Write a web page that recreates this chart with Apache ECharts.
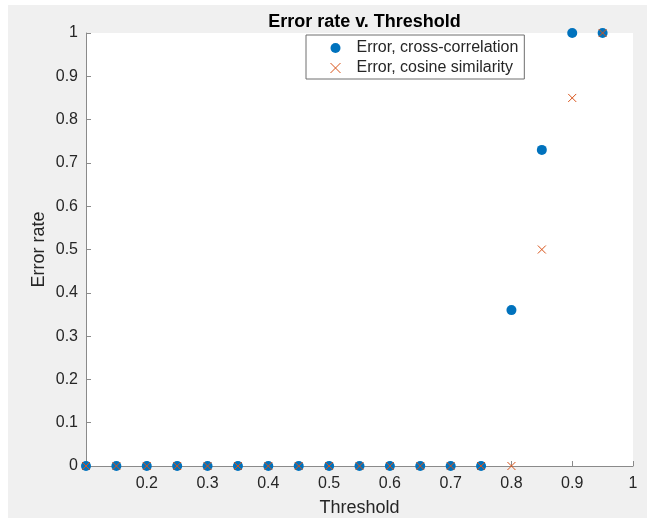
<!DOCTYPE html>
<html>
<head>
<meta charset="utf-8">
<script src="https://cdn.jsdelivr.net/npm/echarts@6/dist/echarts.min.js"></script>
<style>
  html, body { margin: 0; padding: 0; background: #ffffff; }
  #bg { position: absolute; left: 8px; top: 5px; width: 639px; height: 513px; background: #f0f0f0; }
  #chart { position: absolute; left: 0; top: 0; width: 647px; height: 518px; }
</style>
</head>
<body>
<div id="bg"></div>
<div id="chart"></div>
<script>
const thresholds = [0.1, 0.15, 0.2, 0.25, 0.3, 0.35, 0.4, 0.45, 0.5, 0.55, 0.6, 0.65, 0.7, 0.75, 0.8, 0.85, 0.9, 0.95];
const errCrossCorr = [0, 0, 0, 0, 0, 0, 0, 0, 0, 0, 0, 0, 0, 0, 0.36, 0.73, 1, 1];
const errCosine = [0, 0, 0, 0, 0, 0, 0, 0, 0, 0, 0, 0, 0, 0, 0, 0.5, 0.85, 1];
const seriesNames = ['Error, cross-correlation', 'Error, cosine similarity'];
const titleText = 'Error rate v. Threshold';
const xName = 'Threshold';
const yName = 'Error rate';

const textColor = '#262626';
const axisColor = '#8a8a8a';
const font = "'Liberation Sans', Arial, Helvetica, sans-serif";
const crossPath = 'path://M0,0L10,10M10,0L0,10';

const chart = echarts.init(document.getElementById('chart'), null, { renderer: 'canvas' });
chart.setOption({
  backgroundColor: 'transparent',
  animation: false,
  title: {
    text: titleText,
    left: 359.5,
    textAlign: 'center',
    top: 8,
    textStyle: { fontFamily: font, fontSize: 18, fontWeight: 'bold', color: '#000' }
  },
  legend: {
    left: 306,
    top: 35,
    orient: 'vertical',
    itemWidth: 32,
    itemHeight: 10,
    itemGap: 4,
    padding: [5, 6, 3, 24],
    borderColor: '#6e6e6e',
    borderWidth: 1,
    backgroundColor: '#ffffff',
    borderRadius: 0,
    textStyle: { fontFamily: font, fontSize: 16, color: textColor },
    data: [
      { name: seriesNames[0], icon: 'circle', itemStyle: { color: '#0072BD', opacity: 1 } },
      { name: seriesNames[1], icon: crossPath, itemStyle: { color: 'rgba(0,0,0,0)', borderColor: '#D95319', borderWidth: 1 } }
    ]
  },
  grid: {
    left: 86, top: 33, width: 547, height: 433,
    show: true, backgroundColor: '#ffffff', borderWidth: 0,
    containLabel: false,
    outerBoundsMode: 'none'
  },
  xAxis: {
    type: 'value',
    min: 0.1, max: 1, interval: 0.1,
    name: xName, nameLocation: 'middle', nameGap: 33,
    nameMoveOverlap: false,
    nameTextStyle: { fontFamily: font, fontSize: 18, color: textColor },
    axisLine: { show: true, onZero: false, lineStyle: { color: axisColor, width: 1 } },
    axisTick: { show: true, inside: true, length: 5, lineStyle: { color: axisColor } },
    axisLabel: {
      showMinLabel: false,
      margin: 10,
      fontFamily: font, fontSize: 16, color: textColor,
      formatter: v => String(Math.round(v * 10) / 10)
    },
    splitLine: { show: false }
  },
  yAxis: {
    type: 'value',
    min: 0, max: 1, interval: 0.1,
    name: yName, nameLocation: 'middle', nameGap: 38,
    nameMoveOverlap: false,
    nameTextStyle: { fontFamily: font, fontSize: 18, color: textColor },
    axisLine: { show: true, lineStyle: { color: axisColor, width: 1 } },
    axisTick: { show: true, inside: true, length: 5, lineStyle: { color: axisColor } },
    axisLabel: {
      margin: 8,
      fontFamily: font, fontSize: 16, color: textColor,
      formatter: v => String(Math.round(v * 10) / 10)
    },
    splitLine: { show: false }
  },
  series: [
    {
      name: seriesNames[0],
      type: 'scatter',
      symbol: 'circle',
      symbolSize: 10,
      itemStyle: { color: '#0072BD', opacity: 1 },
      data: thresholds.map((t, i) => [t, errCrossCorr[i]]),
      z: 2
    },
    {
      name: seriesNames[1],
      type: 'scatter',
      symbol: crossPath,
      symbolSize: 8,
      itemStyle: { color: 'rgba(0,0,0,0)', borderColor: '#D95319', borderWidth: 1, opacity: 1 },
      data: thresholds.map((t, i) => [t, errCosine[i]]),
      z: 3
    }
  ]
});
</script>
</body>
</html>
